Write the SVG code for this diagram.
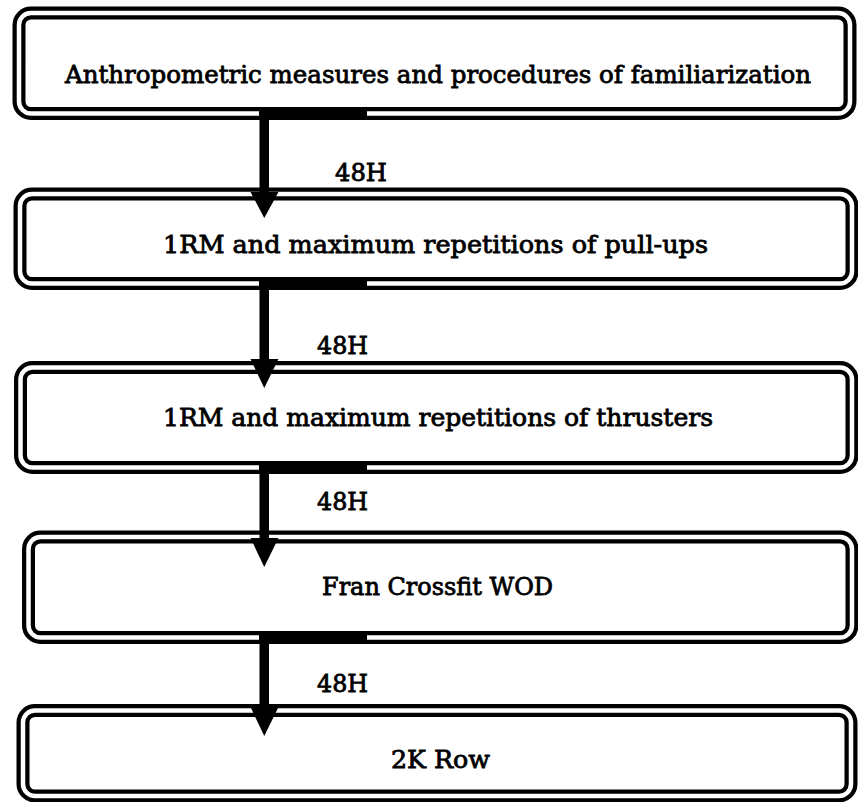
<svg xmlns="http://www.w3.org/2000/svg" width="858" height="802" viewBox="0 0 858 802">
<style>
.outer{fill:#fff;stroke:#000;stroke-width:13}
.inner{fill:none;stroke:#fff;stroke-width:4.5}
.lbl{font-family:"DejaVu Serif","Liberation Serif",serif;font-size:24px;font-weight:normal;fill:#000;text-anchor:middle;stroke:#000;stroke-width:0.8}
.bar,.head{fill:#000;stroke:none}
</style>
<rect width="858" height="802" fill="#fff"/>
<g id="node1">
<rect class="outer" x="19" y="13" width="831" height="100.5" rx="12"/>
<rect class="inner" x="19" y="13" width="831" height="100.5" rx="12"/>
<text class="lbl" x="438" y="83" textLength="746" lengthAdjust="spacingAndGlyphs">Anthropometric measures and procedures of familiarization</text>
</g>
<g id="node2">
<rect class="outer" x="20" y="194" width="832" height="89.5" rx="12"/>
<rect class="inner" x="20" y="194" width="832" height="89.5" rx="12"/>
<text class="lbl" x="435.5" y="253" textLength="545" lengthAdjust="spacingAndGlyphs">1RM and maximum repetitions of pull-ups</text>
</g>
<g id="node3">
<rect class="outer" x="20.5" y="367.5" width="831.5" height="100" rx="12"/>
<rect class="inner" x="20.5" y="367.5" width="831.5" height="100" rx="12"/>
<text class="lbl" x="438" y="426" textLength="550" lengthAdjust="spacingAndGlyphs">1RM and maximum repetitions of thrusters</text>
</g>
<g id="node4">
<rect class="outer" x="28.5" y="537" width="823.5" height="100.5" rx="12"/>
<rect class="inner" x="28.5" y="537" width="823.5" height="100.5" rx="12"/>
<text class="lbl" x="437.5" y="595" textLength="231" lengthAdjust="spacingAndGlyphs">Fran Crossfit WOD</text>
</g>
<g id="node5">
<rect class="outer" x="23" y="710.5" width="828" height="85.5" rx="12"/>
<rect class="inner" x="23" y="710.5" width="828" height="85.5" rx="12"/>
<text class="lbl" x="440.5" y="768" textLength="99" lengthAdjust="spacingAndGlyphs">2K Row</text>
</g>
<g id="connectors">
<rect class="bar" x="259" y="110" width="108" height="10"/>
<rect class="bar" x="259.5" y="112" width="9.5" height="81"/>
<polygon class="head" points="250.5,192 278.5,192 264.25,218"/>
<text class="lbl" x="361" y="181" textLength="52" lengthAdjust="spacingAndGlyphs">48H</text>

<rect class="bar" x="259" y="280" width="108" height="10"/>
<rect class="bar" x="259.5" y="282" width="9.5" height="78"/>
<polygon class="head" points="250.5,359 278.5,359 264.25,388"/>
<text class="lbl" x="342.5" y="354" textLength="51" lengthAdjust="spacingAndGlyphs">48H</text>

<rect class="bar" x="259" y="464" width="108" height="10"/>
<rect class="bar" x="259.5" y="466" width="9.5" height="73"/>
<polygon class="head" points="250.5,538 278.5,538 264.25,567"/>
<text class="lbl" x="342.5" y="510" textLength="51" lengthAdjust="spacingAndGlyphs">48H</text>

<rect class="bar" x="259" y="634" width="108" height="10"/>
<rect class="bar" x="259.5" y="636" width="9.5" height="72"/>
<polygon class="head" points="250.5,707 278.5,707 264.25,736"/>
<text class="lbl" x="342.5" y="692" textLength="51" lengthAdjust="spacingAndGlyphs">48H</text>
</g>
</svg>
